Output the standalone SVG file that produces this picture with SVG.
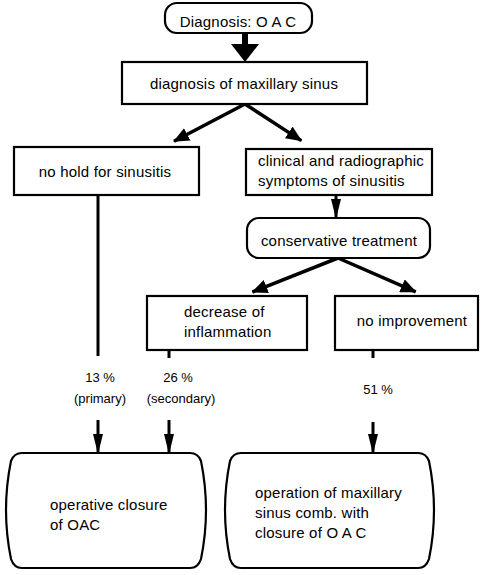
<svg xmlns="http://www.w3.org/2000/svg" width="488" height="575" viewBox="0 0 488 575">
<style>
.box{fill:#fff;stroke:#000;stroke-width:2.2}
.t{font-family:"Liberation Sans",Arial,sans-serif;font-size:15px;fill:#000;letter-spacing:0.2px}
.p{font-family:"Liberation Sans",Arial,sans-serif;font-size:13px;fill:#000}
.m{text-anchor:middle}
.ln{stroke:#000;stroke-width:3.5;fill:none}
.vl{stroke:#000;stroke-width:3;fill:none}
</style>
<defs>
<marker id="ah" markerUnits="userSpaceOnUse" markerWidth="16" markerHeight="14" viewBox="0 0 16 14" refX="15" refY="7" orient="auto">
<path d="M0,0 L16,7 L0,14 Z" fill="#000"/>
</marker>
<marker id="ad" markerUnits="userSpaceOnUse" markerWidth="20" markerHeight="10" viewBox="0 0 20 10" refX="19" refY="5" orient="auto">
<path d="M0,0 L20,5 L0,10 Z" fill="#000"/>
</marker>
</defs>
<g id="connectors">
<rect x="242" y="32" width="6" height="13" fill="#000"/>
<polygon points="231,44 259,44 245,62" fill="#000"/>
<line class="ln" x1="245" y1="104" x2="174" y2="141.3" marker-end="url(#ah)"/>
<line class="ln" x1="245" y1="104" x2="301.3" y2="140.6" marker-end="url(#ah)"/>
<line class="vl" x1="336" y1="195" x2="336" y2="218" marker-end="url(#ad)"/>
<line class="ln" x1="338" y1="258" x2="252.4" y2="292" marker-end="url(#ah)"/>
<line class="ln" x1="338" y1="258" x2="415.7" y2="291.8" marker-end="url(#ah)"/>
<line class="vl" x1="98" y1="195" x2="98" y2="356"/>
<line class="vl" x1="169" y1="350" x2="169" y2="358"/>
<line class="vl" x1="373" y1="350" x2="373" y2="358"/>
<line class="vl" x1="98" y1="420" x2="98" y2="453" marker-end="url(#ad)"/>
<line class="vl" x1="169" y1="420" x2="169" y2="453" marker-end="url(#ad)"/>
<line class="vl" x1="373" y1="422" x2="373" y2="453" marker-end="url(#ad)"/>
<text class="p m" x="100" y="382">13 %</text>
<text class="p m" x="100" y="403">(primary)</text>
<text class="p m" x="178" y="382">26 %</text>
<text class="p m" x="181" y="403">(secondary)</text>
<text class="p m" x="378" y="394">51 %</text>
</g>
<g id="n-diagnosis-oac">
<rect class="box" x="165" y="3" width="147" height="30" rx="12"/>
<text class="t m" x="238" y="27">Diagnosis: O A C</text>
</g>
<g id="n-diagnosis-sinus">
<rect class="box" x="122" y="62" width="245" height="42"/>
<text class="t m" x="244" y="89">diagnosis of maxillary sinus</text>
</g>
<g id="n-no-hold">
<rect class="box" x="14" y="147" width="185" height="48"/>
<text class="t m" x="105" y="177">no hold for sinusitis</text>
</g>
<g id="n-clinical">
<rect class="box" x="246" y="149" width="186" height="46"/>
<text class="t" x="258" y="166">clinical and radiographic</text>
<text class="t" x="258" y="186">symptoms of sinusitis</text>
</g>
<g id="n-conservative">
<rect class="box" x="247" y="218" width="183" height="40" rx="12"/>
<text class="t m" x="339" y="246">conservative treatment</text>
</g>
<g id="n-decrease">
<rect class="box" x="147" y="296" width="160" height="54"/>
<text class="t" x="184" y="317">decrease of</text>
<text class="t" x="184" y="337">inflammation</text>
</g>
<g id="n-no-improvement">
<rect class="box" x="335" y="296" width="143" height="54"/>
<text class="t m" x="412" y="326">no improvement</text>
</g>
<g id="n-operative-closure">
<path class="box" d="M22,453 L190,453 Q198,453 201,461 Q211,510 201,559 Q198,568 190,568 L22,568 Q14,568 11,559 Q1,510 11,461 Q14,453 22,453 Z"/>
<text class="t" x="50" y="510">operative closure</text>
<text class="t" x="50" y="530">of  OAC</text>
</g>
<g id="n-operation-sinus">
<path class="box" d="M241,453 L418,453 Q426,453 429,461 Q439,510 429,559 Q426,568 418,568 L241,568 Q233,568 230,559 Q220,510 230,461 Q233,453 241,453 Z"/>
<text class="t" x="255" y="498">operation of maxillary</text>
<text class="t" x="255" y="518">sinus comb. with</text>
<text class="t" x="255" y="538">closure of O A C</text>
</g>
</svg>
